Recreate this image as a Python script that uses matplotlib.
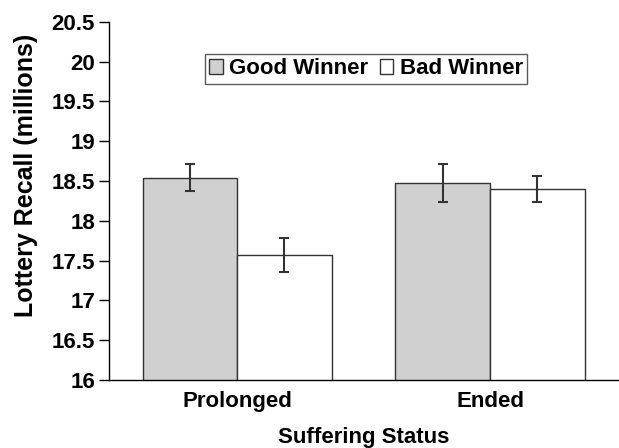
import matplotlib
matplotlib.use('Agg')
import matplotlib.pyplot as plt
import numpy as np

groups = ['Prolonged', 'Ended']
series = ['Good Winner', 'Bad Winner']
good_vals = [18.54, 18.48]
good_err = [0.17, 0.24]
bad_vals = [17.57, 18.40]
bad_err = [0.21, 0.16]

plt.rcParams['font.family'] = ['Liberation Sans', 'DejaVu Sans']
plt.rcParams['font.weight'] = 'bold'

fig = plt.figure(figsize=(6.19, 4.48), dpi=100)
ax = fig.add_axes([0.176, 0.152, 0.824, 0.799])

x = np.arange(len(groups))
w = 0.374
edge = '#333333'
errkw = dict(ecolor='#333333', elinewidth=1.5, capsize=3.3, capthick=1.5)
ax.bar(x - w / 2, good_vals, w, bottom=0, color='#d0d0d0', edgecolor=edge,
       linewidth=1.0, yerr=good_err, error_kw=errkw, label=series[0])
ax.bar(x + w / 2, bad_vals, w, bottom=0, color='white', edgecolor=edge,
       linewidth=1.0, yerr=bad_err, error_kw=errkw, label=series[1])

ax.set_ylim(16, 20.5)
ax.set_xlim(-0.507, 1.51)
ax.set_yticks(np.arange(16, 20.51, 0.5))
ax.set_yticklabels(['16', '16.5', '17', '17.5', '18', '18.5', '19', '19.5', '20', '20.5'])
ax.set_xticks(x)
ax.set_xticklabels(groups)
ax.tick_params(axis='x', length=0, pad=8, labelsize=16)
ax.tick_params(axis='y', length=7, width=1, pad=3, labelsize=16)
for s in ['top', 'right']:
    ax.spines[s].set_visible(False)
ax.spines['left'].set_linewidth(1.0)
ax.spines['bottom'].set_linewidth(1.0)

ax.set_xlabel('Suffering Status', fontsize=16, fontweight='bold', labelpad=11)
ax.set_ylabel('Lottery Recall (millions)', fontsize=18, fontweight='bold')
ax.yaxis.set_label_coords(-0.139, 0.57)

leg = ax.legend(loc='center', bbox_to_anchor=(0.504, 0.869), ncol=2, fontsize=16,
                frameon=True, fancybox=False, edgecolor='#333333',
                handlelength=0.6, handleheight=0.6, handletextpad=0.3,
                columnspacing=0.5, borderpad=0.2, borderaxespad=0)
leg.get_frame().set_linewidth(1.0)
for t in leg.get_texts():
    t.set_fontweight('bold')

fig.savefig('out.png', dpi=100)
